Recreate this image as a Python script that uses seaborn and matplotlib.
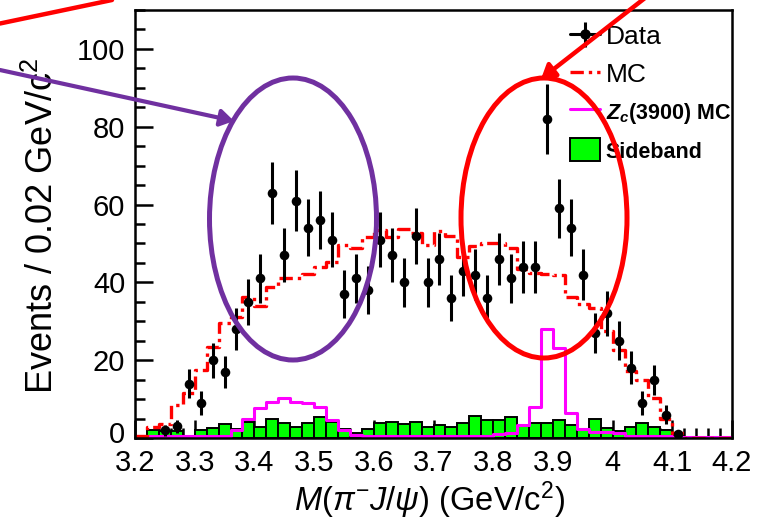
import numpy as np
import pandas as pd
import matplotlib
matplotlib.use("Agg")
import matplotlib.pyplot as plt
import seaborn as sns
from matplotlib.lines import Line2D
from matplotlib.patches import Patch, Ellipse, FancyArrowPatch
from matplotlib.ticker import MultipleLocator, FormatStrFormatter, FuncFormatter

# ---------------- data ----------------
bin_lo = 3.20
bin_hi = 4.20
n_bins = 50

data_x = [3.25, 3.27, 3.29, 3.31, 3.33, 3.35, 3.37, 3.39, 3.41, 3.43, 3.45, 3.47,
          3.49, 3.51, 3.53, 3.55, 3.57, 3.59, 3.61, 3.63, 3.65, 3.67, 3.69, 3.71,
          3.73, 3.75, 3.77, 3.79, 3.81, 3.83, 3.85, 3.87, 3.89, 3.91, 3.93, 3.95,
          3.97, 3.99, 4.01, 4.03, 4.05, 4.07, 4.09, 4.11]
data_y = [2, 3, 14, 9, 20, 17, 28, 35, 41, 63, 47, 61,
          54, 56, 51, 37, 41, 38, 51, 47, 40, 52, 40, 46,
          36, 43, 42, 36, 46, 41, 44, 44, 82, 59, 54, 42,
          27, 32, 25, 18, 9, 15, 6, 1]

mc_counts = [0.5, 2.9, 3.6, 8.5, 11.5, 17.5, 23.5, 29.5, 31.0, 36.3,
             33.8, 38.9, 41.0, 41.2, 42.2, 44.0, 45.3, 49.6, 48.8, 51.7,
             53.5, 51.6, 53.7, 52.6, 49.6, 53.3, 52.0, 46.6, 49.4, 50.0,
             50.0, 48.8, 43.5, 42.5, 42.2, 42.0, 36.3, 34.5, 33.5, 27.5,
             22.5, 17.3, 15.0, 10.2, 4.8, 1.4, 0.0, 0.0, 0.0, 0.0]

zc_counts = [0.5, 0.5, 0.5, 0.5, 0.5, 0.5, 0.5, 0.5, 2.0, 5.0,
             7.6, 9.3, 10.2, 9.3, 9.0, 8.0, 4.6, 2.0, 0.8, 0.4,
             0.4, 0.4, 0.4, 0.4, 0.4, 0.4, 0.4, 0.4, 0.4, 0.4,
             1.0, 1.4, 3.3, 8.0, 28.0, 23.2, 6.5, 2.2, 1.6, 1.6,
             1.2, 0.5, 0.5, 0.5, 0.5, 0.3, 0.3, 0.3, 0.3, 0.3]

sb_counts = [0.0, 2.0, 1.8, 1.8, 0.0, 2.0, 2.6, 3.5, 2.3, 4.2,
             2.9, 4.8, 3.8, 2.9, 3.8, 5.5, 4.0, 2.2, 1.3, 2.2,
             3.8, 4.2, 3.5, 4.2, 2.9, 3.3, 2.7, 3.8, 5.7, 4.5,
             4.5, 5.3, 3.1, 3.9, 3.9, 4.6, 3.3, 2.1, 4.8, 2.5,
             1.7, 2.9, 3.8, 2.9, 2.1, 0.5, 0.0, 0.0, 0.0, 0.0]

legend_labels = ["Data", "MC", r"$\mathbfit{Z_c}$(3900) MC", "Sideband"]
x_label = r"$M(\pi^{-}J/\psi)$ (GeV/c$^{2}$)"
y_label = "Events / 0.02 GeV/c$^{2}$"

# ---------------- style ----------------
sns.set_theme(style="white")
plt.rcParams["font.family"] = ["Liberation Sans", "DejaVu Sans"]
plt.rcParams["mathtext.fontset"] = "custom"
plt.rcParams["mathtext.rm"] = "Liberation Sans"
plt.rcParams["mathtext.it"] = "Liberation Sans:italic"
plt.rcParams["mathtext.bf"] = "Liberation Sans:bold"
plt.rcParams["mathtext.bfit"] = "Liberation Sans:italic:bold"
for k in ["text.color", "axes.labelcolor", "xtick.color", "ytick.color", "axes.edgecolor"]:
    plt.rcParams[k] = "black"

bw = (bin_hi - bin_lo) / n_bins
centers = bin_lo + bw * (np.arange(n_bins) + 0.5)
hist_df = pd.DataFrame({"x": centers, "mc": mc_counts, "zc": zc_counts, "sb": sb_counts})

W, H = 757, 525
fig = plt.figure(figsize=(W / 100, H / 100), dpi=100)
ax = fig.add_axes([135 / W, (H - 438) / H, 597 / W, 428 / H])

# sideband (green filled bars)
sns.histplot(data=hist_df, x="x", weights="sb", bins=n_bins, binrange=(bin_lo, bin_hi),
             element="bars", fill=True, color="#00ff00", edgecolor="black",
             linewidth=1.4, alpha=1.0, ax=ax)
# Zc(3900) MC (magenta step)
sns.histplot(data=hist_df, x="x", weights="zc", bins=n_bins, binrange=(bin_lo, bin_hi),
             element="step", fill=False, color="#ff00ff", linewidth=2.2, ax=ax)
# MC (red dash-dot step)
sns.histplot(data=hist_df, x="x", weights="mc", bins=n_bins, binrange=(bin_lo, bin_hi),
             element="step", fill=False, color="#ff0000", linewidth=2.4,
             linestyle=(0, (4, 1.5, 1, 1.5)), ax=ax)

# data points with sqrt(N) error bars
dy = np.sqrt(np.array(data_y, dtype=float))
ax.errorbar(data_x, data_y, yerr=dy, fmt="none", ecolor="black", elinewidth=2.2,
            capsize=0, zorder=5)
sns.scatterplot(x=data_x, y=data_y, color="black", s=48, edgecolor="black",
                linewidth=0, zorder=6, ax=ax)

ax.set_xlim(3.2, 4.2)
ax.set_ylim(0, 110)
ax.xaxis.set_major_locator(MultipleLocator(0.1))
ax.xaxis.set_minor_locator(MultipleLocator(0.02))
ax.yaxis.set_major_locator(MultipleLocator(20))
ax.yaxis.set_minor_locator(MultipleLocator(5))
ax.xaxis.set_major_formatter(FormatStrFormatter("%g"))
# the "0" label is drawn separately, a little higher, so it clears "3.2"
ax.yaxis.set_major_formatter(FuncFormatter(lambda v, p: "" if abs(v) < 1e-9 else f"{v:g}"))
ax.tick_params(which="both", direction="in", top=False, right=False,
               bottom=True, left=True, width=1.8, colors="black")
ax.tick_params(axis="y", which="major", length=13, pad=7, labelsize=21)
ax.tick_params(axis="y", which="minor", length=7)
ax.tick_params(axis="x", which="major", length=13, pad=8, labelsize=21)
ax.tick_params(axis="x", which="minor", length=7)
for s in ax.spines.values():
    s.set_color("black")
    s.set_linewidth(1.8)
ax.annotate("0", xy=(0, 0), xycoords=("axes fraction", "data"),
            xytext=(-7, 4), textcoords="offset points", ha="right",
            va="center_baseline", fontsize=21, color="black")

ax.set_xlabel(x_label, fontsize=23.5)
ax.set_ylabel(y_label, fontsize=26)
ax.xaxis.set_label_coords(0.494, -0.097)
ax.yaxis.set_label_coords(-0.124, 0.495)

# legend
h_data = (Line2D([], [], color="black", lw=2.2),
          Line2D([], [], color="black", marker="|", ms=18, mew=2.2, ls="none"),
          Line2D([], [], color="black", marker="o", ms=6.5, ls="none"))
h_mc = Line2D([], [], color="#ff0000", lw=2.4, linestyle=(0, (4, 1.5, 1, 1.5)))
h_zc = Line2D([], [], color="#ff00ff", lw=2.2)
h_sb = Patch(facecolor="#00ff00", edgecolor="black", linewidth=1.4)
leg = ax.legend([h_data, h_mc, h_zc, h_sb], legend_labels,
                loc="upper left", bbox_to_anchor=(570 / W, 1 - 24 / H),
                bbox_transform=fig.transFigure, frameon=False, fontsize=19,
                handlelength=1.15, handleheight=0.95, handletextpad=0.2,
                labelspacing=0.45, borderpad=0, borderaxespad=0)
texts = leg.get_texts()
for t in texts[2:]:
    t.set_fontweight("bold")
    t.set_fontsize(15.5)

# ---------------- annotations (figure pixel coords) ----------------
def fp(x, y):
    return (x / W, 1 - y / H)

purple = "#7030a0"
fig.add_artist(Ellipse(fp(293, 219), 167 / W, 282 / H, transform=fig.transFigure,
                       fill=False, edgecolor=purple, lw=3.6, zorder=10))
fig.add_artist(Ellipse(fp(544, 218), 166 / W, 280 / H, transform=fig.transFigure,
                       fill=False, edgecolor="#ff0000", lw=3.6, zorder=10))
fig.add_artist(FancyArrowPatch(fp(0, 70), fp(234, 121), transform=fig.transFigure,
                               arrowstyle="-|>,head_length=8,head_width=5",
                               color=purple, lw=3.0, zorder=11, shrinkA=0, shrinkB=0))
fig.add_artist(FancyArrowPatch(fp(645, -2), fp(541, 79), transform=fig.transFigure,
                               arrowstyle="-|>,head_length=8,head_width=5",
                               color="#ff0000", lw=3.2, zorder=11, shrinkA=0, shrinkB=0))
fig.add_artist(Line2D([0, 112 / W], [1 - 23.5 / H, 1.0], transform=fig.transFigure,
                      color="#ff0000", lw=3.2, zorder=11))

fig.savefig("out.png", dpi=100)
